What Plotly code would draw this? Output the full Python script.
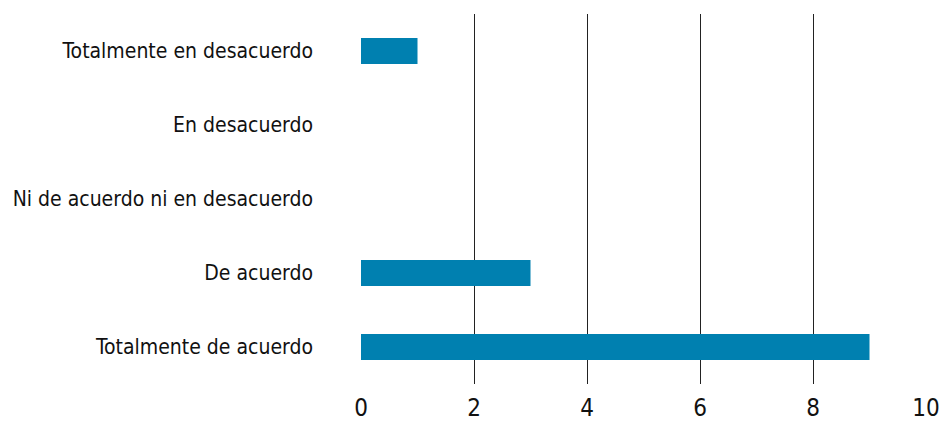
import plotly.graph_objects as go

categories = ["Totalmente en desacuerdo", "En desacuerdo", "Ni de acuerdo ni en desacuerdo",
              "De acuerdo", "Totalmente de acuerdo"]
values = [1, 0, 0, 3, 9]
x_ticks = [0, 2, 4, 6, 8, 10]

FONT = "DejaVu Sans Condensed, Liberation Sans Narrow, Arial Narrow, sans-serif"

fig = go.Figure(go.Bar(
    x=values, y=categories, orientation="h",
    marker=dict(color="#0080b0", line=dict(width=0)),
    width=0.35,
))

fig.update_layout(
    width=939, height=424,
    margin=dict(l=361, r=13, t=14, b=40, autoexpand=False),
    plot_bgcolor="white", paper_bgcolor="white",
    font=dict(family=FONT, size=21, color="#111111"),
    showlegend=False,
    bargap=0.65,
)
fig.update_xaxes(
    range=[0, 10], tickvals=x_ticks, showgrid=True, gridcolor="#222222", gridwidth=1,
    zeroline=False, showline=False, ticks="", tickfont=dict(size=24),
    ticklabelstandoff=7, automargin=False, ticklabeloverflow="allow",
)
fig.update_yaxes(
    categoryorder="array", categoryarray=categories[::-1], autorange=True,
    showgrid=False, zeroline=False, showline=False, ticks="",
    ticklabelstandoff=47, tickfont=dict(size=21), automargin=False,
    ticklabeloverflow="allow",
)

fig.write_html("out.html", config={"displayModeBar": False},
               post_script="document.body.style.margin='0';document.body.style.padding='0';")
